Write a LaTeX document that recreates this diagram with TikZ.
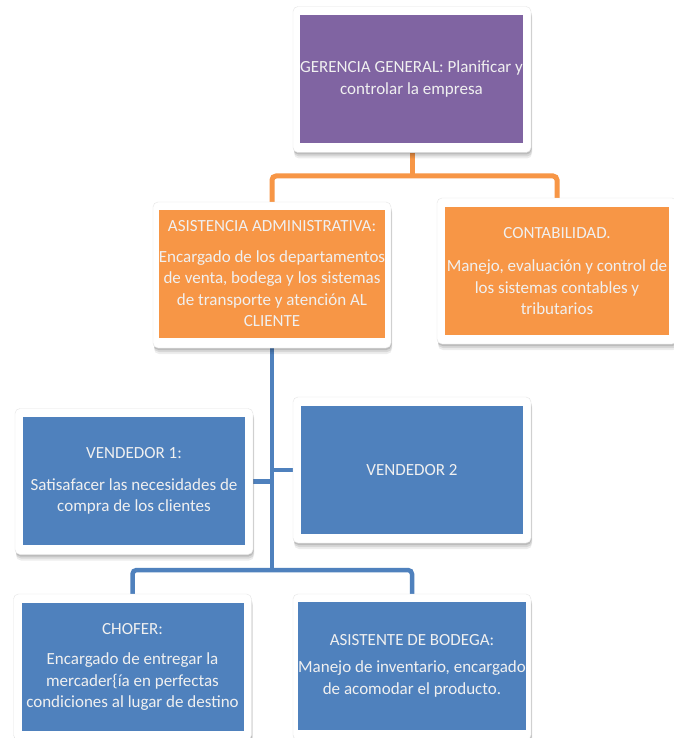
\documentclass[tikz,border=0pt]{standalone}
\usepackage{fontspec}
\setmainfont{Carlito}
\usetikzlibrary{backgrounds,shadows}

\definecolor{mgmtpurple}{HTML}{8064A2}
\definecolor{adminorange}{HTML}{F79646}
\definecolor{staffblue}{HTML}{4F81BD}
\definecolor{labeltext}{HTML}{F0F0F0}

\tikzset{
  softshadow/.style={
    general shadow={fill=black, opacity=0.07, shadow xshift=1pt, shadow yshift=-6pt},
    general shadow={fill=black, opacity=0.09, shadow xshift=1pt, shadow yshift=-4pt},
    general shadow={fill=black, opacity=0.12, shadow xshift=0.5pt, shadow yshift=-2pt}},
  card/.style={draw=black!10, line width=0.4pt, fill=white, rounded corners=5pt,
    minimum width=238pt, minimum height=146pt, inner sep=0pt, softshadow},
  panel/.style={minimum width=222pt, minimum height=128pt, inner sep=0pt,
    align=center, text=labeltext, font=\fontsize{17}{21.5}\selectfont},
  orangeline/.style={draw=adminorange, line width=5pt, rounded corners=4pt},
  blueline/.style={draw=staffblue, line width=4.5pt, rounded corners=4pt},
}

\begin{document}
\begin{tikzpicture}[x=1pt, y=-1pt]
  \useasboundingbox (0,0) rectangle (673,738);
  \begin{pgfonlayer}{background}
    \fill[white] (0,0) rectangle (673,738);
  \end{pgfonlayer}

  % cards
  \node[card] (ger)    at (412,79.5) {};
  \node[card] (asis)   at (272,275)  {};
  \node[card, minimum width=240pt] (conta) at (557,271) {};
  \node[card] (v1)     at (134,481.5) {};
  \node[card] (v2)     at (412,470)  {};
  \node[card] (chofer) at (132.5,667) {};
  \node[card] (bodega) at (412,667)  {};

  % coloured panels with their texts
  \node[panel, fill=mgmtpurple] (gerT) at (411.5,79)
    {GERENCIA GENERAL: Planificar y\\controlar la empresa};
  \node[panel, fill=adminorange] (asisT) at (272,274)
    {ASISTENCIA ADMINISTRATIVA:\\[9pt]Encargado de los departamentos\\de venta, bodega y los sistemas\\de transporte y atención AL\\CLIENTE};
  \node[panel, fill=adminorange, minimum width=224pt] (contaT) at (557,271)
    {CONTABILIDAD.\\[12pt]Manejo, evaluación y control de\\los sistemas contables y\\tributarios};
  \node[panel, fill=staffblue] (v1T) at (134,481)
    {VENDEDOR 1:\\[10pt]Satisafacer las necesidades de\\compra de los clientes};
  \node[panel, fill=staffblue] (v2T) at (412,470) {VENDEDOR 2};
  \node[panel, fill=staffblue] (choferT) at (132.5,667)
    {CHOFER:\\[9pt]Encargado de entregar la\\mercader\{ía en perfectas\\condiciones al lugar de destino};
  \node[panel, fill=staffblue] (bodegaT) at (412,665.5)
    {ASISTENTE DE BODEGA:\\[6pt]Manejo de inventario, encargado\\de acomodar el producto.};

  % connectors, drawn behind the cards
  \coordinate (obus) at (412,176);
  \coordinate (bbus) at (272,570);
  \begin{pgfonlayer}{background}
    \draw[orangeline] (ger.south) -- (obus);
    \draw[orangeline] (asis.north) |- (obus) -| (conta.north);
    \draw[blueline] (asis.south) -- (bbus);
    \draw[blueline] (chofer.north) |- (bbus) -| (bodega.north);
    \draw[blueline] (v1.east) -- (v1.east -| asis.south);
    \draw[blueline] (v2.west) -- (v2.west -| asis.south);
  \end{pgfonlayer}
\end{tikzpicture}
\end{document}
